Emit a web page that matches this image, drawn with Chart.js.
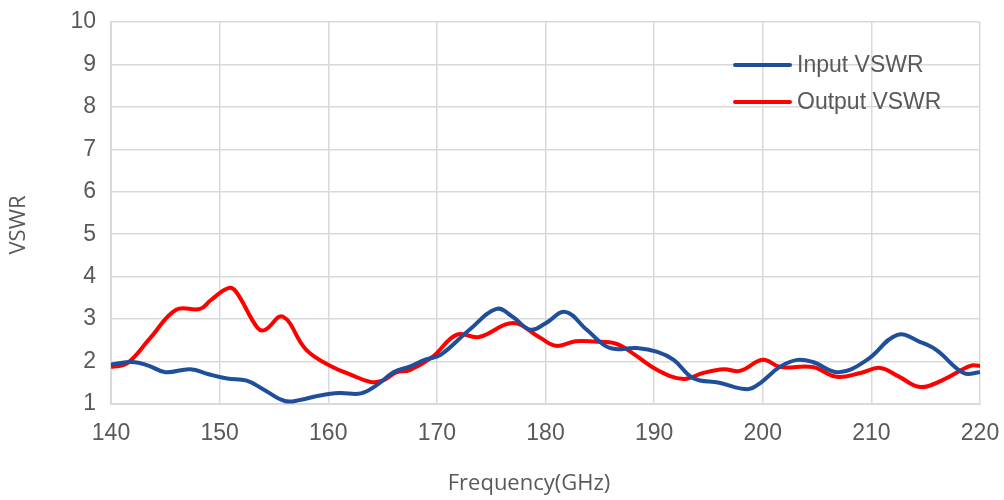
<!DOCTYPE html>
<html>
<head>
<meta charset="utf-8">
<script src="https://cdn.jsdelivr.net/npm/chart.js@4.4.1/dist/chart.umd.min.js"></script>
<style>
  body { margin: 0; background: #fff; }
  #wrap { width: 1004px; height: 500px; }
</style>
</head>
<body>
<div id="wrap"><canvas id="vswrChart" width="1004" height="500"></canvas></div>
<script>
// frequences (GHz) et valeurs
var freqInput = [140, 142, 143.5, 145, 147.3, 149, 150.7, 152.5, 154, 156, 157.5, 159, 161, 163, 164.5, 166, 167.5, 169, 170.3, 173, 175.5, 177, 178.6, 180, 181.8, 183.8, 185.9, 188.4, 190.3, 191.8, 193.6, 196, 198.6, 199.8, 201.6, 203.2, 204.6, 207, 209.6, 212.4, 214.5, 216, 218.5, 220];
var vswrInput = [1.93, 1.99, 1.9, 1.75, 1.82, 1.7, 1.6, 1.55, 1.35, 1.07, 1.1, 1.19, 1.26, 1.25, 1.45, 1.75, 1.88, 2.05, 2.15, 2.75, 3.24, 3.05, 2.75, 2.9, 3.17, 2.75, 2.32, 2.32, 2.23, 2.04, 1.61, 1.5, 1.35, 1.5, 1.88, 2.04, 1.99, 1.75, 2.04, 2.63, 2.46, 2.27, 1.73, 1.75];

var freqOutput = [140, 141.5, 143.6, 146, 148.2, 149.2, 150.8, 151.5, 153.5, 154.2, 155.8, 158, 160.4, 162, 163.9, 165, 166.3, 167.5, 169.6, 171.8, 173.9, 177, 179.4, 181, 182.8, 184.5, 186.5, 188, 190.3, 192.7, 194.5, 196.4, 197.9, 200, 201.6, 204.6, 206.8, 209, 210.8, 212.5, 214.5, 216.6, 219.1, 220];
var vswrOutput = [1.87, 1.96, 2.55, 3.22, 3.24, 3.45, 3.73, 3.65, 2.79, 2.75, 3.06, 2.27, 1.87, 1.7, 1.52, 1.55, 1.75, 1.8, 2.11, 2.63, 2.58, 2.91, 2.58, 2.37, 2.48, 2.47, 2.42, 2.2, 1.8, 1.59, 1.73, 1.82, 1.78, 2.04, 1.87, 1.87, 1.64, 1.73, 1.85, 1.65, 1.4, 1.57, 1.9, 1.9];

var seriesNames = ['Input VSWR', 'Output VSWR'];
var seriesColors = ['#1f4e9a', '#ff0000'];
var xTitle = 'Frequency(GHz)';
var yTitle = 'VSWR';

var tickFont = { size: 23, family: '"Liberation Sans", Arial, sans-serif' };

function toPoints(xs, ys) {
  return xs.map(function(x, i) { return { x: x, y: ys[i] }; });
}

// legende dans la zone du graphique + titres des axes
var extraText = {
  id: 'extraText',
  afterDraw: function(chart) {
    var ctx = chart.ctx;
    var area = chart.chartArea;
    ctx.save();
    chart.data.datasets.forEach(function(ds, i) {
      var y = area.top + 43 + i * 37;
      var x0 = area.right - 245;
      ctx.strokeStyle = ds.borderColor;
      ctx.lineWidth = 4;
      ctx.lineCap = 'round';
      ctx.beginPath();
      ctx.moveTo(x0, y);
      ctx.lineTo(x0 + 55, y);
      ctx.stroke();
      ctx.fillStyle = '#595959';
      ctx.font = '23px "Liberation Sans", Arial, sans-serif';
      ctx.textBaseline = 'middle';
      ctx.fillText(ds.label, x0 + 62, y + 1);
    });
    // titres des axes
    ctx.fillStyle = '#595959';
    ctx.font = '22px "Open Sans", sans-serif';
    ctx.textAlign = 'center';
    ctx.textBaseline = 'middle';
    ctx.fillText(xTitle, 529, 484);
    ctx.translate(19, 225);
    ctx.rotate(-Math.PI / 2);
    ctx.fillText(yTitle, 0, 0);
    ctx.restore();
  }
};

var ctx = document.getElementById('vswrChart').getContext('2d');
new Chart(ctx, {
  type: 'line',
  data: {
    datasets: [{
      label: seriesNames[0],
      data: toPoints(freqInput, vswrInput),
      borderColor: seriesColors[0],
      borderWidth: 4,
      pointRadius: 0,
      tension: 0.4
    }, {
      label: seriesNames[1],
      data: toPoints(freqOutput, vswrOutput),
      borderColor: seriesColors[1],
      borderWidth: 4,
      pointRadius: 0,
      tension: 0.4
    }]
  },
  options: {
    responsive: false,
    animation: false,
    devicePixelRatio: 1,
    layout: { padding: { left: 0, right: 24, top: 22, bottom: 0 } },
    plugins: {
      legend: { display: false },
      tooltip: { enabled: false }
    },
    scales: {
      x: {
        type: 'linear',
        min: 140,
        max: 220,
        ticks: { stepSize: 10, color: '#595959', padding: 16, font: tickFont },
        grid: { color: '#d9d9d9', lineWidth: 1.5, drawTicks: false },
        border: { color: '#d9d9d9', width: 2 },
        afterFit: function(scale) {
          scale.height = 96;
          scale.paddingLeft = 0;
          scale.paddingRight = 0;
        }
      },
      y: {
        min: 1,
        max: 10,
        ticks: { stepSize: 1, color: '#595959', padding: 15, font: tickFont },
        grid: { color: '#d9d9d9', lineWidth: 1.5, drawTicks: false },
        border: { color: '#d9d9d9', width: 2 },
        afterFit: function(scale) {
          scale.width = 111;
          scale.paddingTop = 0;
          scale.paddingBottom = 0;
        }
      }
    }
  },
  plugins: [extraText]
});
</script>
</body>
</html>
